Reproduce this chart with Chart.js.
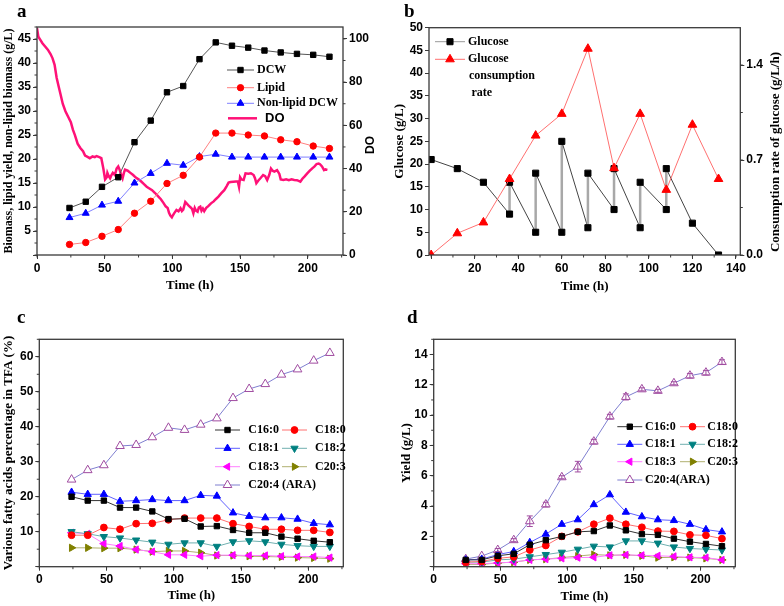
<!DOCTYPE html>
<html>
<head>
  <meta charset="utf-8" />
  <title>Fed-batch fermentation profiles</title>
  <script src="https://cdn.jsdelivr.net/npm/chart.js@4.4.0/dist/chart.umd.min.js"></script>
  <style>
    html, body { margin: 0; padding: 0; background: #ffffff; }
    #wrap { position: relative; width: 784px; height: 606px; }
    .panel { position: absolute; }
    .tag { position: absolute; font: bold 19px "Liberation Serif", serif; color: #000; line-height: 1; }
  </style>
</head>
<body>
<div id="wrap">
  <canvas id="chartA" class="panel" width="392" height="300" style="left:0;top:0"></canvas>
  <canvas id="chartB" class="panel" width="392" height="300" style="left:392px;top:0"></canvas>
  <canvas id="chartC" class="panel" width="392" height="306" style="left:0;top:300px"></canvas>
  <canvas id="chartD" class="panel" width="392" height="306" style="left:392px;top:300px"></canvas>
  <div class="tag" style="left:17px;top:1px">a</div>
  <div class="tag" style="left:404px;top:1px">b</div>
  <div class="tag" style="left:17px;top:307px">c</div>
  <div class="tag" style="left:407px;top:307px">d</div>
</div>
<script>
  // sampling times (h)
  var hours = [24, 36, 48, 60, 72, 84, 96, 108, 120, 132, 144, 156, 168, 180, 192, 204, 216];

  // panel a: biomass (g/L)
  var dcw      = [9.8, 11.1, 14.2, 16.2, 23.5, 28.0, 33.9, 35.2, 40.8, 44.3, 43.6, 43.2, 42.6, 42.2, 41.9, 41.7, 41.3];
  var lipid    = [2.2, 2.6, 3.9, 5.3, 8.7, 11.2, 14.9, 16.6, 20.4, 25.4, 25.4, 25.0, 24.8, 24.0, 23.6, 22.7, 22.2];
  var nonLipid = [7.8, 8.7, 10.4, 11.2, 15.0, 17.0, 19.1, 18.7, 20.5, 21.0, 20.4, 20.4, 20.4, 20.4, 20.4, 20.4, 20.4];

  // panel a: dissolved oxygen (%)
  var doTime = [0, 1, 2, 4, 6, 8, 10, 11.5, 13, 14.5,
    16, 17.5, 19, 21, 23, 25, 26.5, 28, 30, 32,
    34, 35.5, 37, 39, 41, 42.7, 44, 46, 47.5, 49,
    50.3, 51.5, 52, 53, 54, 55, 56, 57.5, 58.8, 60,
    61, 62, 63.2, 64.2, 65, 67, 69, 71, 73, 75,
    77, 79, 81, 83, 85, 87, 88.5, 90, 91.5, 93.5,
    95, 96.5, 97.5, 98.5, 99.6, 100.5, 101.5, 103, 104.5, 106,
    107, 108, 109.5, 111, 112, 113.5, 114.5, 115.5, 116.5, 117.5,
    118.6, 119.5, 120.6, 121.5, 122.5, 123.5, 125, 126.5, 128.5, 130.5,
    132, 134, 136, 138.3, 140, 141.5, 143, 145, 147, 148.3,
    149.2, 150, 151, 152.6, 154, 156, 158, 160, 161, 162,
    163.5, 165, 167, 168.5, 170, 171.5, 172.8, 174, 175.3, 177.3,
    179, 180, 182, 184, 186, 188, 190, 192, 194.5, 196,
    197.5, 199.6, 201.5, 203.3, 205, 206.5, 208, 209, 210.5, 212,
    213, 214.5];
  var doValue = [105, 101, 100, 98, 96.5, 95, 93, 91, 88, 82,
    78, 74, 70, 66.5, 64, 61.5, 58, 55.5, 51.5, 49.5,
    48, 46, 45.5, 44.8, 45.6, 45.3, 45.8, 45.3, 44.8, 40,
    35, 36, 38, 36.5, 35.5, 37, 38, 37, 40, 41,
    39.5, 37.5, 35.5, 38, 39.5, 39, 38, 37, 35.8, 35,
    34, 32.8, 31.6, 30.8, 30, 28.8, 27.8, 26.8, 25.8, 24,
    22.5, 21.8, 19.5, 18.2, 17.4, 18.5, 19.5, 20.8, 20.2, 21.6,
    20.3, 21, 24.5, 23.5, 22.8, 22, 21.3, 19.3, 21.8, 20.5,
    20, 22, 22.4, 20.5, 21.5, 20.3, 21.8, 22.6, 23.9, 24.8,
    25.8, 27, 28.5, 30, 31.8, 33.5, 33.8, 33.9, 34, 34,
    31.5, 36, 35, 34.7, 37.8, 37.6, 37.8, 37, 35.5, 33.2,
    34.5, 35.5, 37, 36.5, 34.7, 37, 40, 39, 38.6, 39.3,
    37.5, 35, 34.7, 35, 34.6, 35, 34.7, 34.6, 33.9, 35.3,
    36.3, 37.8, 39, 40.1, 41, 42.1, 42.3, 42, 41, 39.3,
    39.6, 39.4];

  // panel b: residual glucose (g/L), feeding shows as two values at one time
  var glucoseTime = [0, 12, 24, 36, 36, 48, 48, 60, 60, 72, 72, 84, 84, 96, 96, 108, 108, 120, 132];
  var glucose     = [21, 19, 16, 9, 16, 5, 18, 5, 25, 6, 18, 10, 19, 6, 16, 10, 19, 7, 0];
  var rateTime = [0, 12, 24, 36, 48, 60, 72, 84, 96, 108, 120, 132];
  var rate     = [0, 0.16, 0.24, 0.56, 0.88, 1.04, 1.52, 0.64, 1.04, 0.48, 0.96, 0.56];

  // panel c: fatty acid share of TFA (%)
  var pctC160 = [20.0, 18.9, 18.9, 16.9, 16.9, 15.8, 13.6, 13.7, 11.5, 11.6, 10.5, 9.7, 9.7, 8.6, 8.0, 7.4, 7.0];
  var pctC180 = [9.0, 9.0, 11.2, 10.7, 12.3, 12.4, 13.4, 13.9, 13.9, 13.9, 12.3, 11.5, 10.7, 10.7, 10.4, 10.4, 9.8];
  var pctC181 = [21.3, 20.7, 20.7, 18.7, 18.9, 19.2, 18.9, 18.9, 20.4, 20.2, 15.4, 14.4, 14.0, 14.0, 13.6, 12.4, 12.0];
  var pctC182 = [10.0, 9.4, 8.6, 8.2, 7.6, 7.0, 6.4, 6.8, 6.8, 5.8, 7.1, 7.4, 7.1, 6.4, 6.0, 5.8, 5.8];
  var pctC183 = [9.7, 9.4, 6.6, 5.9, 4.9, 4.3, 3.4, 3.4, 3.0, 3.3, 3.3, 3.2, 3.2, 3.0, 2.9, 2.9, 2.6];
  var pctC203 = [5.4, 5.4, 5.3, 5.3, 4.9, 4.3, 4.5, 4.5, 4.0, 3.2, 3.2, 3.0, 2.9, 2.8, 2.6, 2.5, 2.3];
  var pctARA  = [24.9, 27.6, 29.0, 34.5, 34.8, 37.0, 39.7, 39.1, 40.6, 42.4, 48.2, 50.8, 52.2, 54.9, 56.4, 58.9, 61.1];

  // panel d: fatty acid yield (g/L)
  var ydC160 = [0.45, 0.45, 0.72, 0.85, 1.45, 1.75, 2.0, 2.3, 2.35, 2.72, 2.4, 2.15, 2.1, 1.85, 1.65, 1.5, 1.35];
  var ydC180 = [0.3, 0.35, 0.55, 0.65, 1.1, 1.4, 2.0, 2.3, 2.8, 3.2, 2.8, 2.6, 2.35, 2.33, 2.1, 2.07, 1.85];
  var ydC181 = [0.45, 0.5, 0.8, 1.0, 1.6, 2.15, 2.8, 3.1, 4.1, 4.75, 3.6, 3.3, 3.1, 3.05, 2.8, 2.45, 2.3];
  var ydC182 = [0.3, 0.3, 0.45, 0.5, 0.65, 0.8, 0.95, 1.15, 1.35, 1.3, 1.7, 1.7, 1.55, 1.3, 1.2, 1.15, 1.1];
  var ydC183 = [0.2, 0.2, 0.25, 0.3, 0.45, 0.5, 0.55, 0.6, 0.62, 0.75, 0.78, 0.75, 0.72, 0.68, 0.62, 0.6, 0.45];
  var ydC203 = [0.15, 0.15, 0.25, 0.3, 0.45, 0.5, 0.6, 0.7, 0.8, 0.75, 0.78, 0.72, 0.6, 0.62, 0.6, 0.55, 0.45];
  var ydARA  = [0.5, 0.7, 1.1, 1.75, 3.0, 4.1, 5.9, 6.6, 8.25, 9.9, 11.2, 11.7, 11.6, 12.1, 12.6, 12.8, 13.5];
  var ydARAerr = [0.05, 0.05, 0.1, 0.1, 0.35, 0.15, 0.1, 0.35, 0.15, 0.15, 0.2, 0.1, 0.1, 0.1, 0.15, 0.15, 0.15];

  var TICK_FONT = { family: 'Liberation Sans', weight: 'bold', size: 12 };
  var TITLE_FONT = { family: 'Liberation Serif', weight: 'bold', size: 13 };
  var AXIS_COLOR = '#3a3a3a';

  function pts(xs, ys) {
    return xs.map(function(x, i) { return { x: x, y: ys[i] }; });
  }

  // box around plot, short minor ticks, right-side titles read bottom-up like the left ones
  var framePlugin = {
    id: 'frame',
    afterDraw: function(chart) {
      var ctx = chart.ctx, a = chart.chartArea;
      ctx.save();
      ctx.strokeStyle = AXIS_COLOR;
      ctx.lineWidth = 1.3;
      ctx.strokeRect(a.left, a.top, a.right - a.left, a.bottom - a.top);
      ctx.lineWidth = 1;
      Object.keys(chart.scales).forEach(function(id) {
        var s = chart.scales[id];
        var step = s.options.minorStep;
        if (step) {
          for (var v = Math.ceil(s.min / step) * step; v <= s.max + 1e-9; v += step) {
            var p = s.getPixelForValue(v);
            ctx.beginPath();
            if (s.position === 'bottom') { ctx.moveTo(p, a.bottom); ctx.lineTo(p, a.bottom + 2.5); }
            else if (s.position === 'left') { ctx.moveTo(a.left, p); ctx.lineTo(a.left - 2.5, p); }
            else { ctx.moveTo(a.right, p); ctx.lineTo(a.right + 2.5, p); }
            ctx.stroke();
          }
        }
        var vt = s.options.sideTitle;
        if (vt) {
          ctx.save();
          ctx.translate(vt.x, vt.y);
          ctx.rotate(-Math.PI / 2);
          ctx.fillStyle = '#000';
          ctx.font = vt.font;
          ctx.textAlign = 'center';
          ctx.textBaseline = 'middle';
          ctx.fillText(vt.text, 0, 0);
          ctx.restore();
        }
      });
      ctx.restore();
    }
  };

  // error bars for datasets that carry an errorBars array
  var errorPlugin = {
    id: 'errorBars',
    afterDatasetsDraw: function(chart) {
      var ctx = chart.ctx;
      chart.data.datasets.forEach(function(ds, i) {
        if (!ds.errorBars) return;
        var meta = chart.getDatasetMeta(i);
        var ys = chart.scales[meta.yAxisID];
        ctx.save();
        ctx.strokeStyle = ds.pointBorderColor;
        ctx.lineWidth = 1;
        meta.data.forEach(function(pt, k) {
          var v = ds.data[k].y, e = ds.errorBars[k];
          var y0 = ys.getPixelForValue(v - e), y1 = ys.getPixelForValue(v + e);
          if (y0 - y1 < 3) return;
          ctx.beginPath();
          ctx.moveTo(pt.x, y0); ctx.lineTo(pt.x, y1);
          ctx.moveTo(pt.x - 3, y0); ctx.lineTo(pt.x + 3, y0);
          ctx.moveTo(pt.x - 3, y1); ctx.lineTo(pt.x + 3, y1);
          ctx.stroke();
        });
        ctx.restore();
      });
    }
  };

  // legend drawn at fixed spots inside the plot
  var boxLegend = {
    id: 'boxLegend',
    afterDraw: function(chart, args, opts) {
      if (!opts.items) return;
      var ctx = chart.ctx;
      ctx.save();
      opts.items.forEach(function(it) {
        var ds = chart.data.datasets[it.ds];
        var len = it.len || opts.len || 27;
        ctx.strokeStyle = it.lineColor || ds.borderColor;
        ctx.lineWidth = it.lineWidth || ds.borderWidth;
        ctx.beginPath();
        ctx.moveTo(it.x, it.y);
        ctx.lineTo(it.x + len, it.y);
        ctx.stroke();
        if (ds.pointRadius > 0) {
          ctx.fillStyle = ds.pointBackgroundColor;
          ctx.strokeStyle = ds.pointBorderColor;
          ctx.lineWidth = ds.pointBorderWidth;
          Chart.helpers.drawPoint(ctx, {
            pointStyle: ds.pointStyle, rotation: ds.pointRotation || 0,
            radius: ds.pointRadius, borderWidth: ds.pointBorderWidth
          }, it.x + len / 2, it.y);
        }
        ctx.fillStyle = '#000';
        ctx.font = it.font || opts.font || 'bold 12px "Liberation Serif"';
        ctx.textBaseline = 'middle';
        var tx = it.tx !== undefined ? it.tx : it.x + len + 3;
        [].concat(it.text).forEach(function(t, k) {
          var off = it.indent && k > 0 ? it.indent[k] : 0;
          ctx.fillText(t, tx + off, it.y + k * (opts.lineH || 17));
        });
      });
      ctx.restore();
    }
  };

  function fixSize(prop, val) {
    return function(scale) { scale[prop] = val; };
  }

  function xAxis(o) {
    return {
      type: 'linear', position: 'bottom', min: o.min, max: o.max, minorStep: o.minor,
      afterFit: fixSize('height', o.height),
      grid: { drawOnChartArea: false, tickLength: 4, tickColor: AXIS_COLOR, tickWidth: 1 },
      border: { display: false },
      ticks: {
        stepSize: o.step, includeBounds: false, color: '#000', font: TICK_FONT, padding: 2, maxRotation: 0,
        callback: function(v) { return (o.hideZero && v === 0) ? '' : v; }
      },
      title: { display: true, text: 'Time (h)', color: '#000', font: TITLE_FONT, padding: { top: 0, bottom: o.titlePad } }
    };
  }

  function yAxis(o) {
    return {
      type: 'linear', position: o.position || 'left', min: o.min, max: o.max, minorStep: o.minor,
      sideTitle: o.sideTitle,
      afterFit: fixSize('width', o.width),
      grid: { drawOnChartArea: false, tickLength: 4, tickColor: AXIS_COLOR, tickWidth: 1 },
      border: { display: false },
      ticks: {
        stepSize: o.step, includeBounds: false, color: '#000', font: TICK_FONT, padding: 2,
        callback: o.format || function(v) { return v === 0 ? '' : v; }
      },
      title: { display: !!o.title, text: o.title, color: '#000', font: o.titleFont || TITLE_FONT, padding: { top: o.titlePad, bottom: 0 } }
    };
  }

  function series(label, data, line, marker, style, radius, extra) {
    var ds = {
      label: label, data: data, borderColor: line, borderWidth: 1,
      pointStyle: style, pointRadius: radius, pointHoverRadius: radius,
      pointBackgroundColor: marker, pointBorderColor: marker, pointBorderWidth: 1,
      tension: 0, fill: false
    };
    for (var k in extra) ds[k] = extra[k];
    return ds;
  }

  function opts(layoutPad, scales, legendCfg) {
    return {
      responsive: false, animation: false, events: [],
      layout: { padding: layoutPad },
      scales: scales,
      plugins: { legend: { display: false }, tooltip: { enabled: false }, boxLegend: legendCfg }
    };
  }

  // ---- panel a ----
  new Chart(document.getElementById('chartA'), {
    type: 'line',
    data: {
      datasets: [
        series('DCW', pts(hours, dcw), '#555555', '#000000', 'rect', 3.8),
        series('Lipid', pts(hours, lipid), '#ff8080', '#ff0000', 'circle', 3.2),
        series('Non-lipid DCW', pts(hours, nonLipid), '#8080ff', '#0000ff', 'triangle', 4),
        series('DO', pts(doTime, doValue), '#ff1177', '#ff1177', 'circle', 0, { borderWidth: 2.5, yAxisID: 'y1' })
      ]
    },
    options: opts({ top: 27, left: 0, right: 0, bottom: 0 }, {
      x: xAxis({ min: 0, max: 226, step: 50, minor: 25, height: 45, titlePad: 6.5 }),
      y: yAxis({ min: 0, max: 47.5, step: 5, minor: 2.5, width: 37, titlePad: 2,
        title: 'Biomass, lipid yield, non-lipid biomass (g/L)',
        titleFont: { family: 'Liberation Serif', weight: 'bold', size: 12 } }),
      y1: yAxis({ position: 'right', min: 0, max: 105.5, step: 20, minor: 10, width: 49,
        sideTitle: { text: 'DO', x: 371, y: 145, font: 'bold 12px "Liberation Sans"' },
        format: function(v) { return v; } })
    }, {
      lineH: 17,
      items: [
        { ds: 0, x: 227, y: 70, text: 'DCW' },
        { ds: 1, x: 227, y: 87.7, text: 'Lipid' },
        { ds: 2, x: 227, y: 103.3, text: 'Non-lipid DCW' },
        { ds: 3, x: 228, y: 118.3, len: 29, text: 'DO', tx: 265, font: 'bold 13px "Liberation Sans"' }
      ]
    }),
    plugins: [framePlugin, boxLegend]
  });

  // ---- panel b ----
  new Chart(document.getElementById('chartB'), {
    type: 'line',
    data: {
      datasets: [
        series('Glucose', pts(glucoseTime, glucose), '#444444', '#000000', 'rect', 4.3, {
          order: 1,
          segment: {
            borderColor: function(c) { return c.p0.parsed.x === c.p1.parsed.x ? '#a8a8a8' : '#444444'; },
            borderWidth: function(c) { return c.p0.parsed.x === c.p1.parsed.x ? 2.5 : 1; }
          }
        }),
        series('Glucose consumption rate', pts(rateTime, rate), '#ff7070', '#ff0000', 'triangle', 5, { yAxisID: 'y1', order: 0 })
      ]
    },
    options: opts({ top: 27.7, left: 0, right: 0, bottom: 0 }, {
      x: xAxis({ min: -1, max: 142, step: 20, minor: 10, height: 45, titlePad: 5.5, hideZero: true }),
      y: yAxis({ min: 0, max: 50, step: 5, width: 37, titlePad: 0, title: 'Glucose (g/L)',
        format: function(v) { return v; } }),
      y1: yAxis({ position: 'right', min: 0, max: 1.675, step: 0.7, minor: 0.35, width: 43.7,
        sideTitle: { text: 'Consumption rate of glucose (g/L/h)', x: 383.5, y: 152, font: 'bold 13px "Liberation Serif"' },
        format: function(v) { return v.toFixed(1); } })
    }, {
      lineH: 17,
      items: [
        { ds: 0, x: 43, y: 41.7, len: 30, text: 'Glucose', lineColor: '#999999' },
        { ds: 1, x: 43, y: 59.3, len: 30, text: ['Glucose', 'consumption', 'rate'], indent: [0, 1, 3.5] }
      ]
    }),
    plugins: [framePlugin, boxLegend]
  });

  function acidSets(c160, c180, c181, c182, c183, c203, ara, araName, araErr) {
    return [
      series('C16:0', pts(hours, c160), '#333333', '#000000', 'rect', 3.8),
      series('C18:0', pts(hours, c180), '#ff7070', '#ff0000', 'circle', 3.4),
      series('C18:1', pts(hours, c181), '#6060ff', '#0000ff', 'triangle', 4.2),
      series('C18:2', pts(hours, c182), '#70b0b0', '#008080', 'triangle', 4.2, { pointRotation: 180 }),
      series('C18:3', pts(hours, c183), '#ff80ff', '#ff00ff', 'triangle', 4.2, { pointRotation: 270 }),
      series('C20:3', pts(hours, c203), '#b0b070', '#808000', 'triangle', 4.2, { pointRotation: 90 }),
      series(araName, pts(hours, ara), '#7f7fd0', '#ffffff', 'triangle', 5, { pointBorderColor: '#a04ca0', errorBars: araErr })
    ];
  }

  function acidLegend(c1, c2, t1, rows, araName) {
    return {
      lineH: 17,
      items: [
        { ds: 0, x: c1, y: rows[0], len: 25, text: 'C16:0', tx: t1[0] },
        { ds: 1, x: c2, y: rows[0], len: 25, text: 'C18:0', tx: t1[1] },
        { ds: 2, x: c1, y: rows[1], len: 25, text: 'C18:1', tx: t1[0] },
        { ds: 3, x: c2, y: rows[1], len: 25, text: 'C18:2', tx: t1[1] },
        { ds: 4, x: c1, y: rows[2], len: 25, text: 'C18:3', tx: t1[0] },
        { ds: 5, x: c2, y: rows[2], len: 25, text: 'C20:3', tx: t1[1] },
        { ds: 6, x: c1, y: rows[3], len: 25, text: araName, tx: t1[0] }
      ]
    };
  }

  // ---- panel c ----
  new Chart(document.getElementById('chartC'), {
    type: 'line',
    data: { datasets: acidSets(pctC160, pctC180, pctC181, pctC182, pctC183, pctC203, pctARA, 'C20:4 (ARA)') },
    options: opts({ top: 39.3, left: 0, right: 48.7, bottom: 0 }, {
      x: xAxis({ min: 0, max: 226, step: 50, minor: 25, height: 39.3, titlePad: 3 }),
      y: yAxis({ min: 0, max: 65, step: 10, minor: 5, width: 39.3, titlePad: 0.5,
        title: 'Various fatty acids percentage in TFA (%)' })
    }, acidLegend(215, 282, [248.3, 315], [130, 148.3, 166.7, 185], 'C20:4 (ARA)')),
    plugins: [framePlugin, boxLegend]
  });

  // ---- panel d ----
  new Chart(document.getElementById('chartD'), {
    type: 'line',
    data: { datasets: acidSets(ydC160, ydC180, ydC181, ydC182, ydC183, ydC203, ydARA, 'C20:4(ARA)', ydARAerr) },
    options: opts({ top: 39.3, left: 0, right: 48.7, bottom: 0 }, {
      x: xAxis({ min: 0, max: 226, step: 50, minor: 25, height: 39.3, titlePad: 1.5 }),
      y: yAxis({ min: 0, max: 15, step: 2, minor: 1, width: 41.7, titlePad: 7, title: 'Yield (g/L)' })
    }, acidLegend(225.3, 288, [253, 315.3], [126.7, 144.3, 161.7, 180], 'C20:4(ARA)')),
    plugins: [framePlugin, errorPlugin, boxLegend]
  });
</script>
</body>
</html>
